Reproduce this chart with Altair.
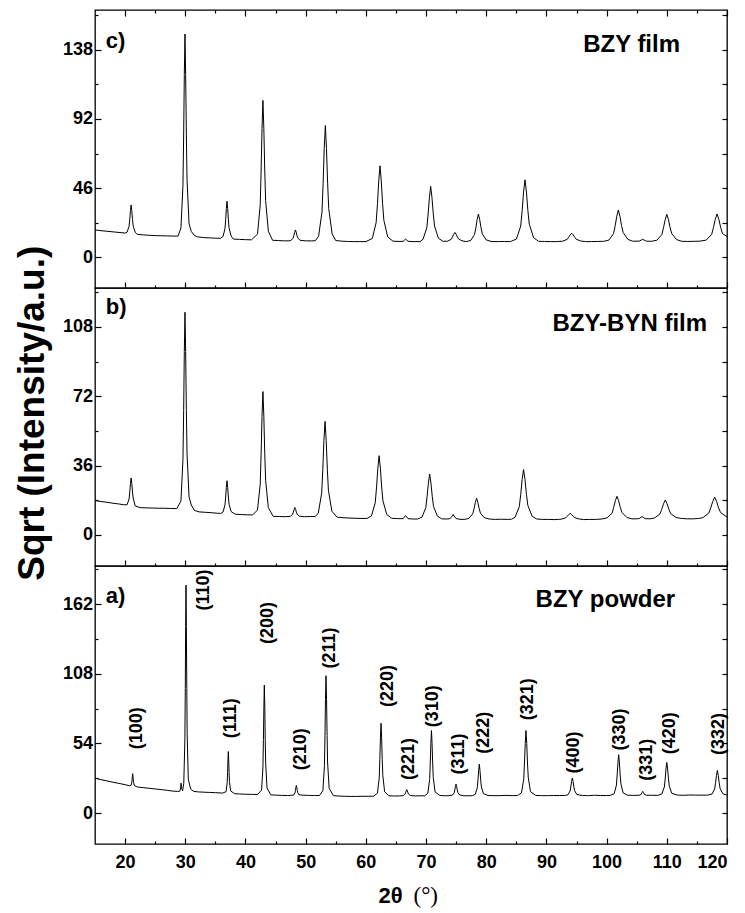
import altair as alt
import pandas as pd

FONT = "Liberation Sans"

X_MAJOR = [20, 30, 40, 50, 60, 70, 80, 90, 100, 110, 120]
X_MINOR = [25, 35, 45, 55, 65, 75, 85, 95, 105, 115]

# (2theta, sqrt intensity), panel c) BZY film
C_TRACE = [
    (15, 18.1), (16, 17.6), (17, 17.2), (18, 16.8), (19, 16.4), (20, 16.0),
    (20.33, 16.6), (20.66, 20.5), (20.78, 25.2), (20.89, 30.9), (21.0, 34.7), (21.11, 30.9), (21.23, 25.2), (21.34, 20.9), (21.68, 16.4),
    (22, 15.2), (23, 14.8), (24, 14.5), (25, 14.3), (26, 14.2), (27, 14.1), (28, 14.0), (28.8, 14.0),
    (29.28, 19.4), (29.61, 47.7), (29.73, 81.3), (29.84, 121.7), (29.95, 148.6), (30.06, 121.7), (30.18, 81.3), (30.29, 51.7), (30.63, 22.1),
    (31.0, 17), (31.5, 14.5),
    (32, 13.5), (33, 13.0), (34, 12.8), (35, 12.6), (35.8, 12.5),
    (36.26, 13.6), (36.59, 18.8), (36.71, 24.9), (36.82, 32.3), (36.93, 37.2), (37.04, 32.3), (37.16, 24.9), (37.27, 19.5), (37.61, 14.1),
    (38, 12), (39, 11.8), (40, 11.6), (41, 11.5),
    (42.0, 15.3), (42.45, 34.8), (42.6, 58.0), (42.75, 85.8), (42.9, 104.4), (43.05, 85.8), (43.2, 58.0), (43.35, 37.6), (43.8, 17.2),
    (44.5, 11.2), (45.5, 11), (46.5, 10.8), (47.2, 10.8),
    (47.55, 11.1), (47.93, 12.6), (48.05, 14.5), (48.18, 16.6), (48.3, 18.1), (48.43, 16.6), (48.55, 14.5), (48.68, 12.8), (49.05, 11.2),
    (50, 10.8), (51, 10.8), (51.6, 10.9),
    (52.15, 13.9), (52.71, 30.0), (52.9, 49.2), (53.08, 72.2), (53.27, 87.6), (53.46, 72.2), (53.65, 49.2), (53.83, 32.3), (54.4, 15.4),
    (55, 11), (56, 10.6), (57, 10.4), (58, 10.3), (59, 10.3), (60, 10.3),
    (61.08, 12.4), (61.71, 23.0), (61.93, 35.6), (62.14, 50.7), (62.35, 60.8), (62.56, 50.7), (62.78, 35.6), (62.99, 24.5), (63.63, 13.4),
    (64.5, 10.6), (65.5, 10.4), (66.2, 10.5), (66.6, 12), (67.0, 10.5), (68, 10.3), (69, 10.3),
    (69.5, 11.9), (70.13, 19.6), (70.35, 28.8), (70.56, 39.8), (70.77, 47.1), (70.98, 39.8), (71.2, 28.8), (71.41, 20.7), (72.05, 12.6),
    (72.8, 10.5),
    (73.6, 10.6), (74.2, 11.9), (74.4, 13.4), (74.6, 15.2), (74.8, 16.4), (75.0, 15.2), (75.2, 13.4), (75.4, 12.1), (76.0, 10.8),
    (76.7, 10.3),
    (77.43, 11.1), (78.06, 15.0), (78.28, 19.6), (78.49, 25.0), (78.7, 28.7), (78.91, 25.0), (79.13, 19.6), (79.34, 15.5), (79.98, 11.5),
    (80.8, 10.4), (82, 10.3), (83, 10.4), (84, 10.3),
    (85.02, 12.0), (85.73, 20.7), (85.97, 31.0), (86.2, 43.3), (86.44, 51.5), (86.68, 43.3), (86.92, 31.0), (87.15, 21.9), (87.87, 12.9),
    (88.7, 10.5), (89.7, 10.4), (90.7, 10.3), (91.7, 10.3),
    (92.7, 10.6), (93.45, 11.8), (93.7, 13.2), (93.95, 14.8), (94.2, 15.9), (94.45, 14.8), (94.7, 13.2), (94.95, 11.9), (95.7, 10.7),
    (96.5, 10.3), (97.5, 10.3), (98.5, 10.4), (99.5, 10.5),
    (100.38, 11.3), (101.16, 15.7), (101.43, 21.0), (101.69, 27.2), (101.95, 31.4), (102.21, 27.2), (102.48, 21.0), (102.74, 16.4), (103.53, 11.8),
    (104.3, 10.6), (105.4, 10.6), (106.0, 11.8), (106.6, 10.6), (107.4, 10.5),
    (108.35, 11.2), (109.18, 15.0), (109.45, 19.5), (109.73, 24.9), (110.0, 28.5), (110.28, 24.9), (110.55, 19.5), (110.83, 15.5), (111.65, 11.6),
    (112.5, 10.5), (113.5, 10.4), (114.5, 10.5), (115.5, 10.6),
    (116.55, 11.3), (117.45, 15.1), (117.75, 19.7), (118.05, 25.1), (118.35, 28.7), (118.65, 25.1), (118.95, 19.7), (119.25, 15.7), (120, 13.7),
]

# panel b) BZY-BYN film
B_TRACE = [
    (15, 17.8), (16, 17.3), (17, 16.9), (18, 16.4), (19, 16.0), (19.8, 15.6),
    (20.33, 15.6), (20.66, 18.6), (20.78, 22.3), (20.89, 26.6), (21.0, 29.5), (21.11, 26.6), (21.23, 22.3), (21.34, 19.1), (21.68, 15.0),
    (22.5, 14.1), (23.5, 14.0), (24.5, 13.9), (25.5, 13.8), (26.5, 13.8), (27.5, 13.7), (28.6, 13.6),
    (29.28, 17.6), (29.61, 39.0), (29.73, 64.6), (29.84, 95.2), (29.95, 115.6), (30.06, 95.2), (30.18, 64.6), (30.29, 42.1), (30.63, 19.6),
    (31.0, 15.5), (31.5, 12.7),
    (32.3, 11.9), (33.3, 11.7), (34.3, 11.5), (35.3, 11.2), (35.9, 11.1),
    (36.26, 11.8), (36.59, 15.4), (36.71, 19.6), (36.82, 24.7), (36.93, 28.1), (37.04, 24.7), (37.16, 19.6), (37.27, 15.9), (37.61, 12.1),
    (38.3, 10.7), (39.3, 10.5), (40.3, 10.4), (41.2, 10.3),
    (42.0, 12.9), (42.45, 26.3), (42.6, 42.4), (42.75, 61.6), (42.9, 74.4), (43.05, 61.6), (43.2, 42.4), (43.35, 28.2), (43.8, 14.1),
    (44.6, 9.6), (45.6, 9.5), (46.6, 9.4),
    (47.45, 9.6), (47.83, 10.6), (47.95, 11.8), (48.08, 13.2), (48.2, 14.2), (48.33, 13.2), (48.45, 11.8), (48.58, 10.7), (48.95, 9.7),
    (49.8, 9.4), (50.8, 9.5), (51.6, 9.5),
    (52.1, 11.3), (52.66, 21.7), (52.85, 34.1), (53.03, 49.0), (53.22, 58.9), (53.41, 49.0), (53.6, 34.1), (53.78, 23.2), (54.35, 12.3),
    (55.2, 9.2), (56.2, 8.9), (57.2, 8.7), (58.2, 8.6), (59.2, 8.5), (60.2, 8.5),
    (60.93, 9.8), (61.56, 16.7), (61.78, 24.8), (61.99, 34.6), (62.2, 41.1), (62.41, 34.6), (62.63, 24.8), (62.84, 17.6), (63.48, 10.5),
    (64.3, 8.6), (65.3, 8.4), (66.2, 8.4), (66.6, 10), (67.0, 8.4), (67.8, 8.2), (68.6, 8.2),
    (69.33, 9.2), (69.96, 14.1), (70.18, 20.0), (70.39, 26.9), (70.6, 31.6), (70.81, 26.9), (71.03, 20.0), (71.24, 14.8), (71.88, 9.7),
    (72.6, 8.3), (73.4, 8.2),
    (74.0, 8.4), (74.3, 9.6), (74.5, 10.6), (74.7, 9.6), (75.0, 8.4),
    (75.8, 8.0), (76.6, 8.1),
    (77.13, 8.6), (77.76, 10.9), (77.98, 13.6), (78.19, 16.8), (78.4, 19.0), (78.61, 16.8), (78.83, 13.6), (79.04, 11.2), (79.68, 8.9),
    (80.5, 8.2), (81.5, 8.0), (82.5, 8.1), (83.5, 8.0), (84.2, 8.1),
    (84.78, 9.1), (85.49, 14.6), (85.73, 21.0), (85.96, 28.7), (86.2, 33.9), (86.44, 28.7), (86.68, 21.0), (86.91, 15.3), (87.63, 9.6),
    (88.4, 8.2), (89.4, 8.0), (90.4, 8.0), (91.4, 7.9), (92.0, 8.0),
    (92.45, 8.1), (93.2, 8.8), (93.45, 9.6), (93.7, 10.5), (93.95, 11.1), (94.2, 10.5), (94.45, 9.6), (94.7, 8.9), (95.45, 8.2),
    (96.2, 7.9), (97.2, 8.0), (98.2, 8.0), (99.2, 8.2),
    (100.07, 8.8), (100.9, 11.2), (101.17, 14.2), (101.45, 17.7), (101.72, 20.0), (102.0, 17.7), (102.27, 14.2), (102.55, 11.6), (103.37, 9.0),
    (104.2, 8.3), (104.9, 8.3), (105.4, 8.4), (105.9, 9.5), (106.4, 8.4), (107.2, 8.3),
    (107.95, 8.7), (108.85, 10.8), (109.15, 13.2), (109.45, 16.1), (109.75, 18.1), (110.05, 16.1), (110.35, 13.2), (110.65, 11.0), (111.55, 9.0),
    (112.4, 8.5), (113.4, 8.3), (114.4, 8.3), (115.3, 8.5),
    (116.0, 8.9), (116.98, 11.3), (117.3, 14.0), (117.63, 17.3), (117.95, 19.5), (118.28, 17.3), (118.6, 14.0), (118.93, 11.6), (120, 9.2),
]

# panel a) BZY powder
A_TRACE = [
    (15, 27.1), (16, 25.9), (17, 24.9), (18, 23.9), (19, 23.0), (20, 22.0), (20.7, 21.2),
    (20.96, 21.3), (21.11, 23.3), (21.16, 25.7), (21.21, 28.6), (21.26, 30.5), (21.31, 28.6), (21.36, 25.7), (21.41, 23.6), (21.56, 21.2),
    (22, 20.3), (23, 19.7), (24, 19.2), (25, 18.7), (26, 18.2), (27, 17.6), (28, 17.0), (28.7, 16.8),
    (29.08, 16.9), (29.19, 18.3), (29.23, 20.0), (29.3, 23.2), (29.37, 20.0), (29.45, 18.5), (29.55, 17.2),
    (29.75, 23.1), (29.93, 56.7), (30.0, 96.7), (30.06, 144.7), (30.12, 176.7), (30.18, 144.7), (30.25, 96.7), (30.31, 61.5), (30.5, 26.3),
    (30.9, 18.5), (31.4, 16.8),
    (32.2, 16.4), (33, 16.2), (34, 16.0), (35, 15.8), (36.2, 15.5),
    (36.78, 16.6), (36.96, 23.4), (37.03, 31.5), (37.09, 41.2), (37.15, 47.7), (37.21, 41.2), (37.28, 31.5), (37.34, 24.4), (37.53, 17.2),
    (38.2, 15.0), (39, 14.8), (40, 14.6), (41, 14.5), (42, 14.4),
    (42.68, 17.8), (42.9, 35.6), (42.98, 56.9), (43.06, 82.3), (43.13, 99.3), (43.21, 82.3), (43.28, 56.9), (43.36, 38.2), (43.58, 19.5),
    (44.2, 14.1), (45, 13.9), (46, 13.7), (47, 13.6), (47.5, 13.7),
    (48.0, 14.0), (48.23, 15.6), (48.3, 17.6), (48.38, 19.9), (48.45, 21.4), (48.53, 19.9), (48.6, 17.6), (48.68, 15.9), (48.9, 14.2),
    (49.6, 13.8), (50.5, 13.7), (51.5, 13.6), (52.3, 13.6),
    (52.86, 17.3), (53.12, 36.8), (53.21, 60.1), (53.29, 87.9), (53.38, 106.5), (53.47, 87.9), (53.56, 60.1), (53.64, 39.6), (53.9, 19.2),
    (54.6, 13.5), (55.5, 13.2), (56.5, 13.0), (57.5, 12.9), (58.5, 12.9), (59.5, 13.0), (60.5, 13.0), (61.3, 13.1),
    (61.92, 15.4), (62.22, 27.2), (62.32, 41.4), (62.42, 58.3), (62.52, 69.6), (62.62, 58.3), (62.72, 41.4), (62.82, 28.9), (63.12, 16.5),
    (63.8, 13.4), (64.8, 13.2), (65.6, 13.3),
    (66.2, 13.5), (66.5, 14.5), (66.6, 15.7), (66.7, 17.1), (66.8, 18.1), (66.9, 17.1), (67.0, 15.7), (67.1, 14.6), (67.4, 13.6),
    (68.2, 13.3), (69.2, 13.4), (69.8, 13.4),
    (70.3, 15.4), (70.6, 26.1), (70.7, 38.7), (70.8, 53.9), (70.9, 64.0), (71.0, 53.9), (71.1, 38.7), (71.2, 27.6), (71.5, 16.4),
    (72.3, 13.6), (73.2, 13.4), (73.8, 13.5),
    (74.38, 13.9), (74.68, 15.7), (74.78, 18.0), (74.88, 20.6), (74.98, 22.4), (75.08, 20.6), (75.18, 18.0), (75.28, 16.0), (75.58, 14.0),
    (76.3, 13.4), (77.3, 13.4), (77.7, 13.5),
    (78.18, 14.5), (78.51, 19.6), (78.63, 25.7), (78.74, 33.0), (78.85, 37.9), (78.96, 33.0), (79.08, 25.7), (79.19, 20.3), (79.53, 15.0),
    (80.3, 13.6), (81.3, 13.5), (82.3, 13.5), (83.3, 13.7), (84.3, 13.5), (85.2, 13.6),
    (85.85, 15.6), (86.23, 26.2), (86.35, 38.8), (86.48, 53.9), (86.6, 64.0), (86.73, 53.9), (86.85, 38.8), (86.98, 27.7), (87.35, 16.6),
    (88.2, 13.7), (89.2, 13.5), (90.2, 13.5), (91.2, 13.6), (92.2, 13.6), (93.0, 13.6),
    (93.55, 14.1), (93.93, 17.0), (94.05, 20.4), (94.18, 24.4), (94.3, 27.1), (94.43, 24.4), (94.55, 20.4), (94.68, 17.4), (95.05, 14.4),
    (96, 13.6), (97, 13.5), (98, 13.8), (99, 13.6), (100, 13.6), (100.6, 13.7),
    (101.25, 15.0), (101.63, 21.6), (101.75, 29.5), (101.88, 38.9), (102.0, 45.2), (102.13, 38.9), (102.25, 29.5), (102.38, 22.5), (102.75, 15.6),
    (103.5, 13.8), (104.5, 13.7),
    (105.4, 13.8), (105.75, 14.5), (105.88, 15.9), (106.0, 16.8), (106.13, 15.9), (106.25, 14.5), (106.6, 13.8),
    (107.5, 13.8), (108.5, 13.7),
    (109.18, 14.8), (109.59, 20.2), (109.73, 26.5), (109.86, 34.1), (110.0, 39.2), (110.14, 34.1), (110.28, 26.5), (110.41, 20.9), (110.83, 15.3),
    (111.8, 13.9), (112.8, 13.8), (113.8, 14.0), (114.8, 13.9), (115.8, 13.9), (116.8, 13.9),
    (117.5, 14.7), (117.95, 18.7), (118.1, 23.5), (118.25, 29.2), (118.4, 33.0), (118.55, 29.2), (118.7, 23.5), (118.85, 19.2), (119.3, 15.0),
    (120, 13.9),
]

C_Y_MAJOR = [0, 46, 92, 138]
C_Y_MINOR = [23, 69, 115, 161]
C_Y_DOMAIN = [-20.6, 164.6]
B_Y_MAJOR = [0, 36, 72, 108]
B_Y_MINOR = [18, 54, 90, 126]
B_Y_DOMAIN = [-16.2, 128.2]
A_Y_MAJOR = [0, 54, 108, 162]
A_Y_MINOR = [27, 81, 135, 189]
A_Y_DOMAIN = [-24.0, 191.6]

PANEL_LETTERS = ["c)", "b)", "a)"]
LETTER_X = [16.8, 16.8, 16.8]
LETTER_Y = [139.5, 114.8, 162.8]
SAMPLE_NAMES = ["BZY film", "BZY-BYN film", "BZY powder"]
NAME_X = [96.1, 91.0, 88.2]
NAME_Y = [136.8, 106.0, 159.5]

HKL = ["(100)", "(110)", "(111)", "(200)", "(210)", "(211)", "(220)", "(221)", "(310)",
       "(311)", "(222)", "(321)", "(400)", "(330)", "(331)", "(420)", "(332)"]
HKL_X = [21.9, 33.1, 37.6, 43.7, 49.3, 54.0, 63.6, 67.2, 71.2, 75.4, 79.7, 86.9, 94.5, 102.2, 106.7, 110.5, 118.6]
HKL_Y = [65.8, 173.0, 73.5, 147.4, 49.5, 128.0, 98.6, 41.9, 82.8, 45.8, 62.2, 88.2, 47.0, 64.8, 41.3, 61.9, 61.3]

W, H = 632, 278
XS = alt.Scale(domain=[15, 120], nice=False, zero=False)


def tick_axis(orient, values, size, **kw):
    return alt.Axis(orient=orient, values=values, tickSize=size, offset=-size,
                    domain=False, grid=False, **kw)


def panel(trace, ymaj, ymin, ydom, idx, top_axis=False, bottom_labels=False,
          ytitle=False, xtitle=False, hkl=False):
    df = pd.DataFrame(trace, columns=["tt", "si"])
    ys = alt.Scale(domain=ydom, nice=False, zero=False)
    base = alt.Chart(df)

    xmaj_kw = dict(labels=bottom_labels, title=None)
    xmin_kw = dict(labels=False, title=None)
    if bottom_labels:
        xmaj_kw.update(labelPadding=9)
    if xtitle:
        xmaj_kw.update(title="2θ", titleX=283, titleY=64.7, titleAlign="left",
                       titleBaseline="alphabetic", titleFont=FONT, titleFontSize=22,
                       titleFontWeight="bold", titleAngle=0)
        xmin_kw.update(title="(°)", titleX=318, titleY=61.7, titleAlign="left",
                       titleBaseline="alphabetic", titleFont="Liberation Serif",
                       titleFontSize=23, titleFontWeight="normal", titleAngle=0)
    ymaj_kw = dict(labels=True, labelPadding=2.5, title=None)
    if ytitle:
        ymaj_kw.update(title="Sqrt (Intensity/a.u.)", titleX=-57.5, titleY=124.75,
                       titleAngle=270, titleAlign="center", titleBaseline="alphabetic",
                       titleFont=FONT, titleFontSize=37, titleFontWeight="bold")

    layers = [
        base.mark_line(color="black", strokeWidth=1).encode(
            x=alt.X("tt:Q", scale=XS, axis=tick_axis("bottom", X_MAJOR, 6, **xmaj_kw)),
            y=alt.Y("si:Q", scale=ys, axis=tick_axis("left", ymaj, 6, **ymaj_kw)),
        ),
        base.mark_line(opacity=0).encode(
            x=alt.X("tt:Q", scale=XS, axis=tick_axis("bottom", X_MINOR, 3, **xmin_kw)),
            y=alt.Y("si:Q", scale=ys, axis=tick_axis("left", ymin, 3, labels=False, title=None)),
        ),
        base.mark_line(opacity=0).encode(
            x=alt.X("tt:Q", scale=XS,
                    axis=tick_axis("top", X_MAJOR, 6, labels=False, title=None) if top_axis else None),
            y=alt.Y("si:Q", scale=ys,
                    axis=tick_axis("right", sorted(ymaj + ymin), 5, labels=False, title=None)),
        ),
    ]
    if top_axis:
        layers.append(base.mark_line(opacity=0).encode(
            x=alt.X("tt:Q", scale=XS, axis=tick_axis("top", X_MINOR, 3, labels=False, title=None)),
            y=alt.Y("si:Q", scale=ys, axis=None),
        ))

    letter = pd.DataFrame({"tt": [LETTER_X[idx]], "si": [LETTER_Y[idx]], "t": [PANEL_LETTERS[idx]]})
    name = pd.DataFrame({"tt": [NAME_X[idx]], "si": [NAME_Y[idx]], "t": [SAMPLE_NAMES[idx]]})
    for d, fs in ((letter, 22), (name, 24)):
        layers.append(alt.Chart(d).mark_text(font=FONT, fontSize=fs, fontWeight="bold",
                                             align="left", baseline="alphabetic", color="black").encode(
            x=alt.X("tt:Q", scale=XS, axis=None),
            y=alt.Y("si:Q", scale=ys, axis=None),
            text="t:N",
        ))
    if hkl:
        hk = pd.DataFrame({"tt": HKL_X, "si": HKL_Y, "t": HKL})
        layers.append(alt.Chart(hk).mark_text(font=FONT, fontSize=18, fontWeight="bold",
                                              angle=270, align="center", baseline="middle",
                                              color="black").encode(
            x=alt.X("tt:Q", scale=XS, axis=None),
            y=alt.Y("si:Q", scale=ys, axis=None),
            text="t:N",
        ))
    return alt.layer(*layers).properties(width=W, height=H).resolve_axis(x="independent", y="independent")


pc = panel(C_TRACE, C_Y_MAJOR, C_Y_MINOR, C_Y_DOMAIN, 0, top_axis=True)
pb = panel(B_TRACE, B_Y_MAJOR, B_Y_MINOR, B_Y_DOMAIN, 1, ytitle=True)
pa = panel(A_TRACE, A_Y_MAJOR, A_Y_MINOR, A_Y_DOMAIN, 2, bottom_labels=True, xtitle=True, hkl=True)

chart = alt.vconcat(pc, pb, pa, spacing=0, bounds="flush").properties(
    padding={"left": 4, "top": 0, "right": 0, "bottom": 0}
).configure_view(
    stroke="black", strokeWidth=1.3
).configure_axis(
    labelFont=FONT, labelFontSize=18, labelFontWeight="bold", labelColor="black",
    tickColor="black", tickWidth=1.2, titleColor="black"
)

chart.save("out.html", embed_options={"renderer": "svg", "actions": False})
